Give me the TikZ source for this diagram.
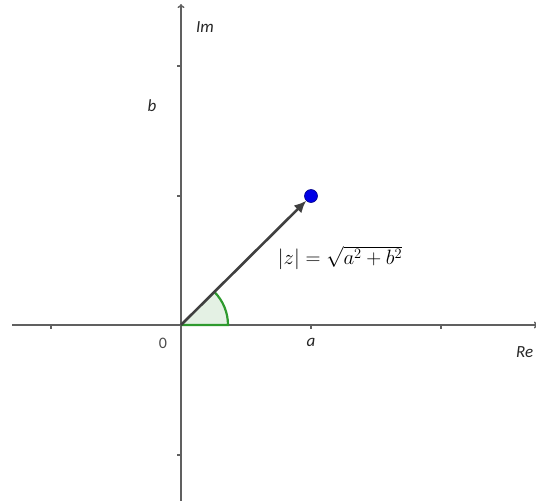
\documentclass[tikz,border=0pt]{standalone}
\usepackage{fontspec}
\newfontfamily\lblfont{Carlito}
\usetikzlibrary{arrows.meta}
\definecolor{axisgray}{HTML}{606060}
\definecolor{vecgray}{HTML}{404040}
\definecolor{anggreen}{HTML}{2E9A2E}
\definecolor{angfill}{HTML}{E4F1E4}
\definecolor{ptblue}{HTML}{0000E6}
\tikzset{
  axis/.style={draw=axisgray, line width=1.4pt},
  tickmark/.style={draw=axisgray, line width=1.4pt},
  lbl/.style={font=\lblfont\itshape\fontsize{17}{20}\selectfont, text=black!85, inner sep=0pt},
  lblup/.style={font=\lblfont\fontsize{16}{19}\selectfont, text=black!70, inner sep=0pt},
}
\begin{document}
\begin{tikzpicture}[x=1pt,y=-1pt]
\useasboundingbox (0,0) rectangle (536,501);
\clip (0,0) rectangle (536,501);
\coordinate (O) at (181,325);
\coordinate (xl) at (12,325);
\coordinate (xr) at (538,325);
\coordinate (yb) at (181,503);
\coordinate (yt) at (181,4);
\coordinate (P) at (311,196);
% angle
\fill[angfill] (O) -- (228,325) arc[start angle=0, end angle=-44.8, radius=47] -- cycle;
% axes
\draw[axis, -{To[length=4pt,width=7pt]}] (xl) -- (xr);
\draw[axis, -{To[length=4pt,width=7pt]}] (yb) -- (yt);
% ticks
\draw[tickmark] (51,325) -- (51,329);
\draw[tickmark] (311,325) -- (311,329);
\draw[tickmark] (441,325) -- (441,329);
\draw[tickmark] (181,66) -- (177,66);
\draw[tickmark] (181,196) -- (177,196);
\draw[tickmark] (181,455) -- (177,455);
% angle outline
\draw[anggreen, line width=2.2pt] (O) -- (228,325) arc[start angle=0, end angle=-44.8, radius=47];
% vector
\node[circle, fill=ptblue, draw=ptblue!60!black, line width=0.6pt, minimum size=13pt, inner sep=0pt] (pt) at (P) {};
\draw[vecgray, line width=2.6pt, -{Latex[length=12pt,width=11pt]}] (O) -- (pt);
% labels
\node[lbl, anchor=west] (im) at (196,27) {Im};
\node[lbl] (bl) at (152,106) {b};
\node[lblup] (zero) at (163,343) {0};
\node[lbl] (al) at (311,342) {a};
\node[lbl, anchor=west] (re) at (516,352) {Re};
\node[inner sep=0pt] (f) at (340,258) {\fontsize{20.5}{24}\selectfont$|z| = \sqrt{a^2+b^2}$};
\end{tikzpicture}
\end{document}
